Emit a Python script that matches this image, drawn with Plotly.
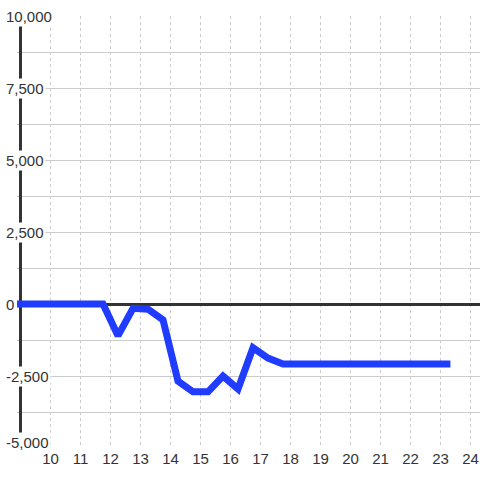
import plotly.graph_objects as go

# hours (half-hour steps) and balance values
hours = [8.75, 9.25, 9.75, 10.25, 10.75, 11.25, 11.75, 12.25, 12.75, 13.25,
         13.75, 14.25, 14.75, 15.25, 15.75, 16.25, 16.75, 17.25, 17.75, 18.25,
         18.75, 19.25, 19.75, 20.25, 20.75, 21.25, 21.75, 22.25, 22.75, 23.33]
values = [0, 0, 0, 0, 0, 0, 0, -1100, -150, -180,
          -550, -2680, -3050, -3050, -2500, -2950, -1520, -1880, -2080, -2080,
          -2080, -2080, -2080, -2080, -2080, -2080, -2080, -2080, -2080, -2080]

x_ticks = list(range(10, 25))
y_ticks = [-5000, -2500, 0, 2500, 5000, 7500, 10000]
y_labels = ["-5,000", "-2,500", "0", "2,500", "5,000", "7,500", "10,000"]

font_color = "#333333"
grid_color = "#cccccc"

fig = go.Figure()

fig.add_trace(go.Scatter(
    x=hours, y=values,
    mode="lines",
    line=dict(color="#1f3cff", width=7),
    hoverinfo="skip",
))

# dark vertical axis line at x = 9
fig.add_shape(type="line", xref="x", yref="y", x0=9, x1=9, y0=-5000, y1=10000,
              line=dict(color=font_color, width=3), layer="between")

# y labels sit over the axis line and gridlines with a white backing
for val, lab in zip(y_ticks, y_labels):
    fig.add_annotation(
        x=0, xref="paper", y=val, yref="y",
        text=lab, showarrow=False,
        xanchor="left", xshift=-13,
        yshift=6 if val == -5000 else 0,
        bgcolor="white", borderpad=1,
        font=dict(size=15, color=font_color),
    )

fig.update_layout(
    width=480, height=480,
    margin=dict(l=17, r=0, t=16, b=32, autoexpand=False),
    paper_bgcolor="white", plot_bgcolor="white",
    showlegend=False,
    font=dict(family="Liberation Sans, Arial, sans-serif", size=15, color=font_color),
)

fig.update_xaxes(
    range=[10 - 33.5 / 30, 10 + 429.5 / 30],
    tickvals=x_ticks,
    showgrid=True, gridcolor=grid_color, griddash="dot", gridwidth=1,
    zeroline=False, showline=False, ticks="", automargin=False,
    tickfont=dict(size=15, color=font_color),
)
fig.update_yaxes(
    range=[-5000, 10000],
    dtick=1250, tick0=0,
    showgrid=True, gridcolor=grid_color, gridwidth=1,
    zeroline=True, zerolinecolor=font_color, zerolinewidth=3,
    showline=False, ticks="", showticklabels=False, automargin=False,
)

# page body has a default margin; drop it so the figure fills the window
fig.write_html("out.html", config={"displayModeBar": False},
               post_script="document.body.style.margin='0';")
